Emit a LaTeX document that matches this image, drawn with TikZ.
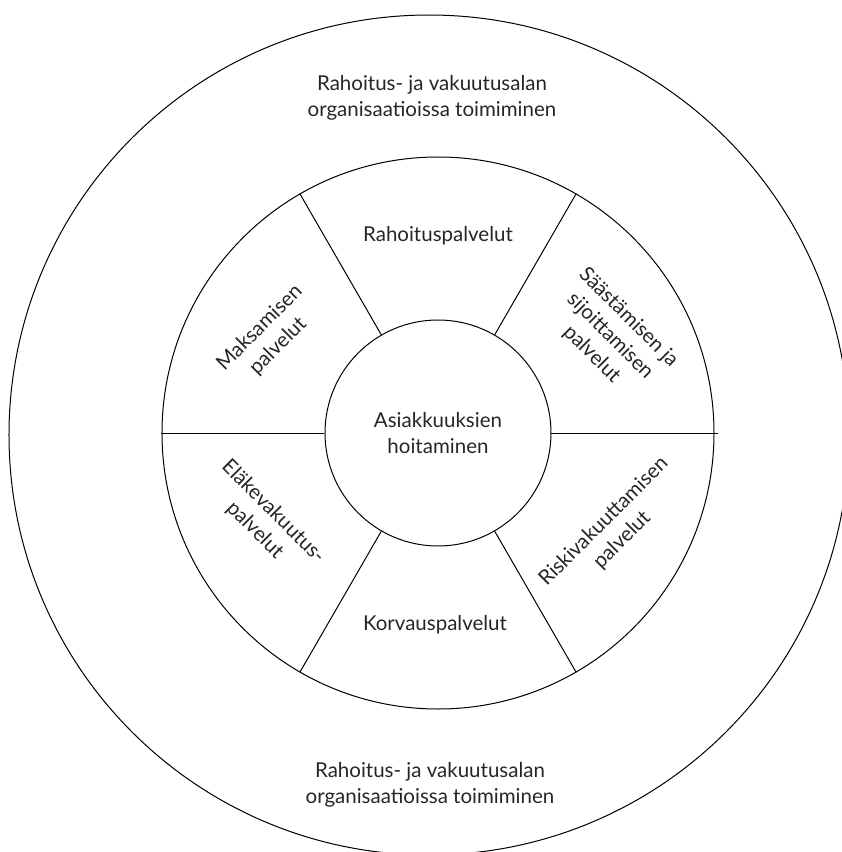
\documentclass[tikz,border=0pt]{standalone}
\usepackage{fontspec}
\setmainfont{Lato}
\usetikzlibrary{positioning}

\begin{document}
\begin{tikzpicture}[
            x=1pt, y=1pt,
            every node/.style={align=center, text=black!85, font=\fontsize{20.5}{26}\selectfont},
            ring/.style={draw, circle, line width=1pt, inner sep=0pt},
            every path/.style={line width=1pt}
        ]
        \useasboundingbox (-438,-419) rectangle (404,433);

        % Circles
        \node[ring, minimum size=840pt] (outer) at (-9,-2) {};
        \node[ring, minimum size=552pt] (middle) at (0,0) {};
        \node[ring, minimum size=226pt] (hub) at (0,0) {Asiakkuuksien\\hoitaminen};

        % Spokes
        \foreach \a in {60,120,180,240,300}
            \draw (hub.\a) -- (middle.\a);
        \draw (hub.0) -- ([xshift=3pt]middle.0);

        % Outer band
        \node (topband) at (-6,335) {Rahoitus- ja vakuutusalan\\organisaatioissa toimiminen};
        \node (bottomband) at (-8,-352) {Rahoitus- ja vakuutusalan\\organisaatioissa toimiminen};

        % Sectors
        \node (rahoitus) at (0,197) {Rahoituspalvelut};
        \node (korvaus) at (-3,-192) {Korvauspalvelut};
        \node[rotate=45] (maksu) at (-169,96) {Maksamisen\\palvelut};
        \node[rotate=-45] (saasto) at (172,97) {Säästämisen ja\\sijoittamisen\\palvelut};
        \node[rotate=-45] (elake) at (-174,-88) {Eläkevakuutus-\\palvelut};
        \node[rotate=45] (riski) at (175,-98) {Riskivakuuttamisen\\palvelut};
\end{tikzpicture}
\end{document}
